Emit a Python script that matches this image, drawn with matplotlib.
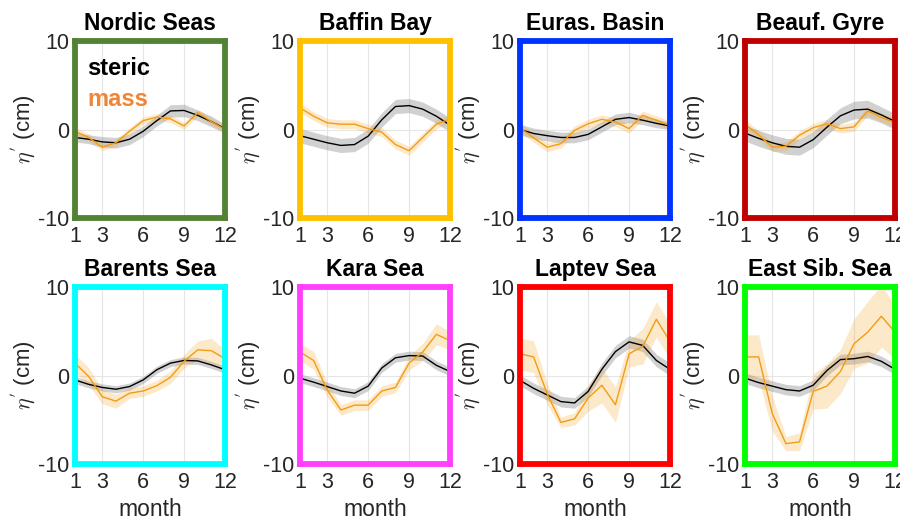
import numpy as np
import matplotlib
matplotlib.use('Agg')
import matplotlib.pyplot as plt

plt.rcParams['font.family'] = ['Liberation Sans', 'DejaVu Sans']
plt.rcParams['mathtext.fontset'] = 'cm'
plt.rcParams['axes.unicode_minus'] = False

months = np.arange(1, 13)

# nazwy regionow i kolory ramek
regions = ['Nordic Seas', 'Baffin Bay', 'Euras. Basin', 'Beauf. Gyre',
           'Barents Sea', 'Kara Sea', 'Laptev Sea', 'East Sib. Sea']
frame_colors = ['#548235', '#FFC000', '#0033FF', '#C00000',
                '#00FFFF', '#FF40FF', '#FF0000', '#00FF00']

# steric (czarne) - srednia i rozrzut
steric_nordic = [-0.9, -1.1, -1.4, -1.5, -1.1, -0.2, 1.0, 2.1, 2.15, 1.6, 0.9, 0.1]
steric_baffin = [-0.7, -1.1, -1.5, -1.8, -1.7, -0.75, 1.1, 2.6, 2.7, 2.3, 1.5, 0.5]
steric_euras = [0.0, -0.45, -0.7, -0.9, -0.9, -0.55, 0.3, 1.15, 1.35, 1.05, 0.7, 0.4]
steric_beauf = [-0.4, -1.0, -1.5, -1.9, -2.0, -1.15, 0.25, 1.55, 2.2, 2.3, 1.65, 0.9]
steric_barents = [-0.5, -1.0, -1.35, -1.55, -1.25, -0.5, 0.65, 1.4, 1.7, 1.65, 1.2, 0.65]
steric_kara = [-0.3, -0.75, -1.25, -1.75, -2.0, -1.2, 0.85, 2.0, 2.25, 2.2, 1.15, 0.45]
steric_laptev = [-0.55, -1.45, -2.2, -2.95, -3.1, -1.8, 0.7, 2.7, 3.8, 3.4, 1.7, 0.7]
steric_esib = [-0.3, -0.8, -1.2, -1.6, -1.75, -1.1, 0.55, 1.8, 1.9, 2.15, 1.6, 0.7]

steric_err_nordic = [0.5, 0.5, 0.6, 0.6, 0.6, 0.6, 0.6, 0.7, 0.7, 0.6, 0.6, 0.5]
steric_err_baffin = [0.8, 0.8, 0.8, 0.8, 0.8, 0.8, 0.8, 0.8, 0.8, 0.8, 0.8, 0.8]
steric_err_euras = [0.6, 0.6, 0.6, 0.6, 0.6, 0.6, 0.6, 0.6, 0.6, 0.5, 0.5, 0.4]
steric_err_beauf = [0.9, 0.9, 0.9, 0.9, 0.9, 0.9, 0.9, 0.9, 1.0, 1.0, 0.9, 0.9]
steric_err_barents = [0.4, 0.4, 0.4, 0.4, 0.4, 0.4, 0.4, 0.4, 0.4, 0.4, 0.4, 0.4]
steric_err_kara = [0.5, 0.5, 0.5, 0.5, 0.5, 0.5, 0.5, 0.5, 0.5, 0.5, 0.5, 0.5]
steric_err_laptev = [0.6, 0.6, 0.6, 0.6, 0.6, 0.6, 0.7, 0.7, 0.7, 0.7, 0.7, 0.7]
steric_err_esib = [0.6, 0.6, 0.6, 0.6, 0.6, 0.6, 0.6, 0.6, 0.6, 0.6, 0.6, 0.6]

# mass (pomaranczowe) - srednia i rozrzut
mass_nordic = [-0.2, -0.9, -2.0, -1.5, -0.2, 1.0, 1.4, 1.2, 0.4, 1.9, 0.9, 0.0]
mass_baffin = [2.45, 1.5, 0.75, 0.6, 0.6, 0.1, -0.3, -1.7, -2.4, -0.9, 0.6, 1.2]
mass_euras = [0.2, -0.95, -2.0, -1.6, -0.1, 0.65, 1.15, 0.85, 0.1, 1.6, 1.05, 0.45]
mass_beauf = [0.6, -0.6, -2.0, -1.9, -0.65, 0.2, 0.65, 0.1, 0.3, 2.1, 1.35, 0.8]
mass_barents = [1.4, -0.1, -2.4, -2.9, -2.0, -1.75, -1.15, -0.2, 1.6, 2.9, 2.8, 1.9]
mass_kara = [2.65, 1.7, -1.65, -3.9, -3.35, -3.35, -1.75, -1.35, 1.4, 2.65, 4.65, 3.95]
mass_laptev = [2.45, 2.1, -2.1, -5.3, -4.9, -2.55, -1.1, -3.3, 2.45, 3.3, 6.35, 3.85]
mass_esib = [2.1, 2.1, -4.3, -7.7, -7.5, -1.8, -1.2, 0.45, 3.6, 4.9, 6.7, 4.9]

mass_err_nordic = [0.4, 0.4, 0.4, 0.4, 0.4, 0.4, 0.4, 0.4, 0.4, 0.4, 0.4, 0.4]
mass_err_baffin = [0.5, 0.5, 0.5, 0.5, 0.5, 0.5, 0.5, 0.5, 0.5, 0.5, 0.5, 0.5]
mass_err_euras = [0.5, 0.5, 0.5, 0.5, 0.5, 0.5, 0.5, 0.5, 0.5, 0.5, 0.5, 0.5]
mass_err_beauf = [0.5, 0.5, 0.5, 0.5, 0.5, 0.5, 0.5, 0.5, 0.5, 0.5, 0.5, 0.5]
mass_err_barents = [1.0, 1.0, 0.8, 0.8, 0.6, 0.6, 0.6, 0.7, 0.8, 1.0, 1.4, 1.0]
mass_err_kara = [1.0, 1.0, 0.8, 0.6, 0.6, 0.6, 0.6, 0.6, 0.8, 1.0, 1.2, 1.0]
mass_err_laptev = [1.8, 1.8, 1.2, 0.6, 0.7, 1.5, 2.0, 2.0, 1.5, 2.0, 2.0, 2.0]
mass_err_esib = [2.5, 2.5, 2.0, 0.8, 1.0, 2.0, 2.5, 2.5, 2.8, 3.5, 3.5, 3.0]

steric = [steric_nordic, steric_baffin, steric_euras, steric_beauf,
          steric_barents, steric_kara, steric_laptev, steric_esib]
steric_err = [steric_err_nordic, steric_err_baffin, steric_err_euras, steric_err_beauf,
              steric_err_barents, steric_err_kara, steric_err_laptev, steric_err_esib]
mass = [mass_nordic, mass_baffin, mass_euras, mass_beauf,
        mass_barents, mass_kara, mass_laptev, mass_esib]
mass_err = [mass_err_nordic, mass_err_baffin, mass_err_euras, mass_err_beauf,
            mass_err_barents, mass_err_kara, mass_err_laptev, mass_err_esib]

text_col = '#262626'
mass_col = '#F39C12'

fig = plt.figure(figsize=(9, 5.2), dpi=100)

col_left = [75, 300, 520, 745]
row_top = [41, 287]
w, h = 150, 177

for i in range(8):
    r, c = divmod(i, 4)
    ax = fig.add_axes([col_left[c] / 900, 1 - (row_top[r] + h) / 520, w / 900, h / 520])
    s = np.array(steric[i])
    se = np.array(steric_err[i])
    m = np.array(mass[i])
    me = np.array(mass_err[i])
    ax.fill_between(months, s - se, s + se, color='0.55', alpha=0.4, linewidth=0)
    ax.fill_between(months, m - me, m + me, color=mass_col, alpha=0.22, linewidth=0)
    ax.plot(months, s, color='black', linewidth=1.0)
    ax.plot(months, m, color=mass_col, linewidth=1.0)

    ax.set_xlim(1, 12)
    ax.set_ylim(-10, 10)
    ax.set_xticks([1, 3, 6, 9, 12])
    ax.set_yticks([-10, 0, 10])
    ax.grid(True, color='#E6E6E6', linewidth=0.8)
    ax.set_axisbelow(True)
    ax.tick_params(length=0, labelsize=15.5, colors=text_col)
    ax.tick_params(axis='x', pad=6)
    ax.tick_params(axis='y', pad=4)
    for sp in ax.spines.values():
        sp.set_color(frame_colors[i])
        sp.set_linewidth(4.2)
    ax.set_title(regions[i], fontsize=16.5, fontweight='bold', pad=8)
    ax.set_ylabel(r"$\eta^{'}$ (cm)", fontsize=16, color=text_col, labelpad=0)
    if r == 1:
        ax.set_xlabel('month', fontsize=16.5, color=text_col, labelpad=3)
    if i == 0:
        ax.text(0.08, 0.81, 'steric', transform=ax.transAxes, fontsize=17,
                fontweight='bold', color='black')
        ax.text(0.08, 0.635, 'mass', transform=ax.transAxes, fontsize=17,
                fontweight='bold', color='#F08535')

fig.savefig('out.png', dpi=100)
